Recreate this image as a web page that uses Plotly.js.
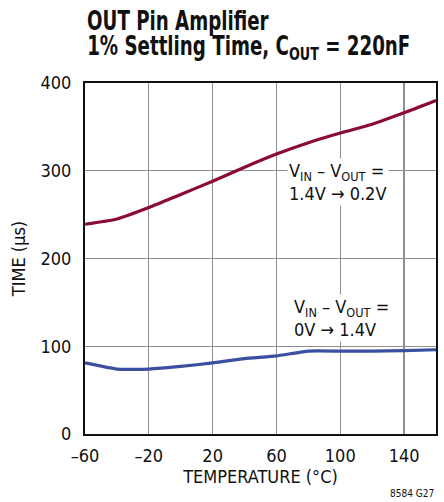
<!DOCTYPE html>
<html>
<head>
<meta charset="utf-8">
<script src="https://cdn.plot.ly/plotly-3.0.1.min.js"></script>
<style>html,body{margin:0;padding:0;background:#fff;}#chart{width:444px;height:502px;}</style>
</head>
<body>
<div id="chart"></div>
<script>
const temperature = [-60, -40, -20, 0, 20, 40, 60, 80, 100, 120, 140, 160];
const timeHighToLow = [239, 245, 258, 273, 288, 304, 319, 332, 343, 353, 366, 380];
const timeLowToHigh = [81, 74, 74, 77, 81, 86, 89, 94.5, 94.5, 94.5, 95, 96];
const xTicks = [-60, -20, 20, 60, 100, 140];
const yTicks = [0, 100, 200, 300, 400];

const FONT = "'DejaVu Sans Condensed', 'Liberation Sans Narrow', Arial, sans-serif";

const traces = [
  {x: temperature, y: timeHighToLow, mode: 'lines', line: {color: '#8c0a36', width: 3.2, shape: 'spline', smoothing: 0.6}, hoverinfo: 'skip'},
  {x: temperature, y: timeLowToHigh, mode: 'lines', line: {color: '#3b4fa0', width: 3.2, shape: 'spline', smoothing: 0.4}, hoverinfo: 'skip'}
];

const layout = {
  width: 444, height: 502,
  margin: {l: 85, r: 8, t: 83, b: 68},
  paper_bgcolor: '#fff', plot_bgcolor: '#fff',
  showlegend: false,
  font: {family: FONT, size: 18, color: '#111'},
  xaxis: {
    range: [-60, 160], tickvals: xTicks, ticktext: xTicks.map(v => v < 0 ? '\u2013' + Math.abs(v) : String(v)),
    showgrid: true, gridcolor: '#8f8f8f', gridwidth: 1.3,
    showline: true, linecolor: '#111', linewidth: 2, mirror: true,
    ticks: '', zeroline: false, ticklabelstandoff: 4,
    title: {text: 'TEMPERATURE (°C)', font: {family: FONT, size: 18, color: '#111'}, standoff: 6}
  },
  yaxis: {
    range: [0, 400], tickvals: yTicks,
    showgrid: true, gridcolor: '#8f8f8f', gridwidth: 1.3,
    showline: true, linecolor: '#111', linewidth: 2, mirror: true,
    ticks: '', zeroline: false, ticklabelstandoff: 8,
    title: {text: 'TIME (µs)', font: {family: FONT, size: 18, color: '#111'}, standoff: 10}
  },
  annotations: [
    {xref: 'paper', yref: 'paper', x: 0, y: 1, xanchor: 'left', yanchor: 'bottom',
     text: '<b>OUT Pin Amplifier</b>', showarrow: false, font: {family: FONT, size: 26, color: '#111'}, yshift: 45},
    {xref: 'paper', yref: 'paper', x: 0, y: 1, xanchor: 'left', yanchor: 'bottom',
     text: '<b>1% Settling Time, C<sub>OUT</sub> = 220nF</b>', showarrow: false, font: {family: FONT, size: 26, color: '#111'}, yshift: 17},
    {xref: 'x', yref: 'y', x: 66.5, y: 315, xanchor: 'left', yanchor: 'top', align: 'left',
     text: 'V<sub>IN</sub> – V<sub>OUT</sub> =<br>1.4V → 0.2V', showarrow: false, bgcolor: '#fff', borderpad: 1,
     font: {family: FONT, size: 18, color: '#111'}},
    {xref: 'x', yref: 'y', x: 69.5, y: 159, xanchor: 'left', yanchor: 'top', align: 'left',
     text: 'V<sub>IN</sub> – V<sub>OUT</sub> =<br>0V → 1.4V', showarrow: false, bgcolor: '#fff', borderpad: 1,
     font: {family: FONT, size: 18, color: '#111'}},
    {xref: 'paper', yref: 'paper', x: 1, y: 0, xanchor: 'right', yanchor: 'top', yshift: -52,
     text: '8584 G27', showarrow: false, font: {family: FONT, size: 10, color: '#111'}}
  ]
};

Plotly.newPlot('chart', traces, layout, {staticPlot: true, displayModeBar: false}).then(() => {
  const texts = document.querySelectorAll('.annotation-text');
  [0, 1].forEach(i => {
    const t = texts[i];
    if (!t) return;
    t.style.transformBox = 'fill-box';
    t.style.transformOrigin = 'left center';
    t.style.transform = 'scaleX(0.78)';
  });
});
</script>
</body>
</html>
